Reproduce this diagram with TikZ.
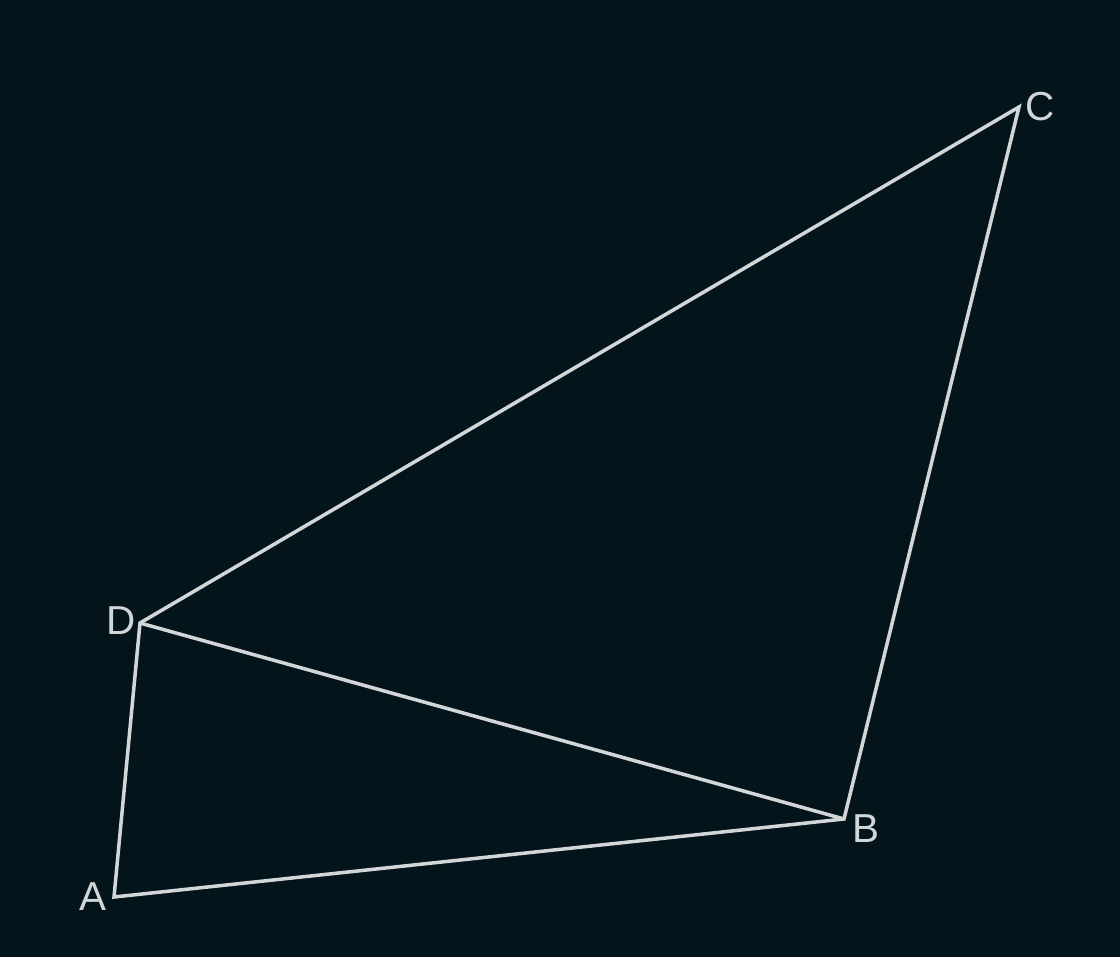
\documentclass[tikz,border=0pt]{standalone}
\usepackage{fontspec}
\setmainfont{Liberation Sans}
\definecolor{bgdark}{HTML}{03141A}
\definecolor{edgegray}{HTML}{D2D6D6}
\begin{document}
\begin{tikzpicture}[x=0.01cm,y=-0.01cm]
    \tikzstyle{every node}+=[inner sep=0pt, text=edgegray, font=\fontsize{11.5}{14}\selectfont]
    \tikzstyle{side}=[edgegray, line width=1pt, line join=miter]
    \fill [bgdark] (0,0) rectangle (1120,957);
    \coordinate (A) at (114,897);
    \coordinate (B) at (844,819);
    \coordinate (C) at (1019,107);
    \coordinate (D) at (140,623);
    \node (labA) at (93,897) {A};
    \node (labB) at (866,829) {B};
    \node (labC) at (1040,107) {C};
    \node (labD) at (121,621) {D};
    \draw [side] (A) -- (B) -- (C) -- (D) -- cycle;
    \draw [side] (D) -- (B);
\end{tikzpicture}
\end{document}
